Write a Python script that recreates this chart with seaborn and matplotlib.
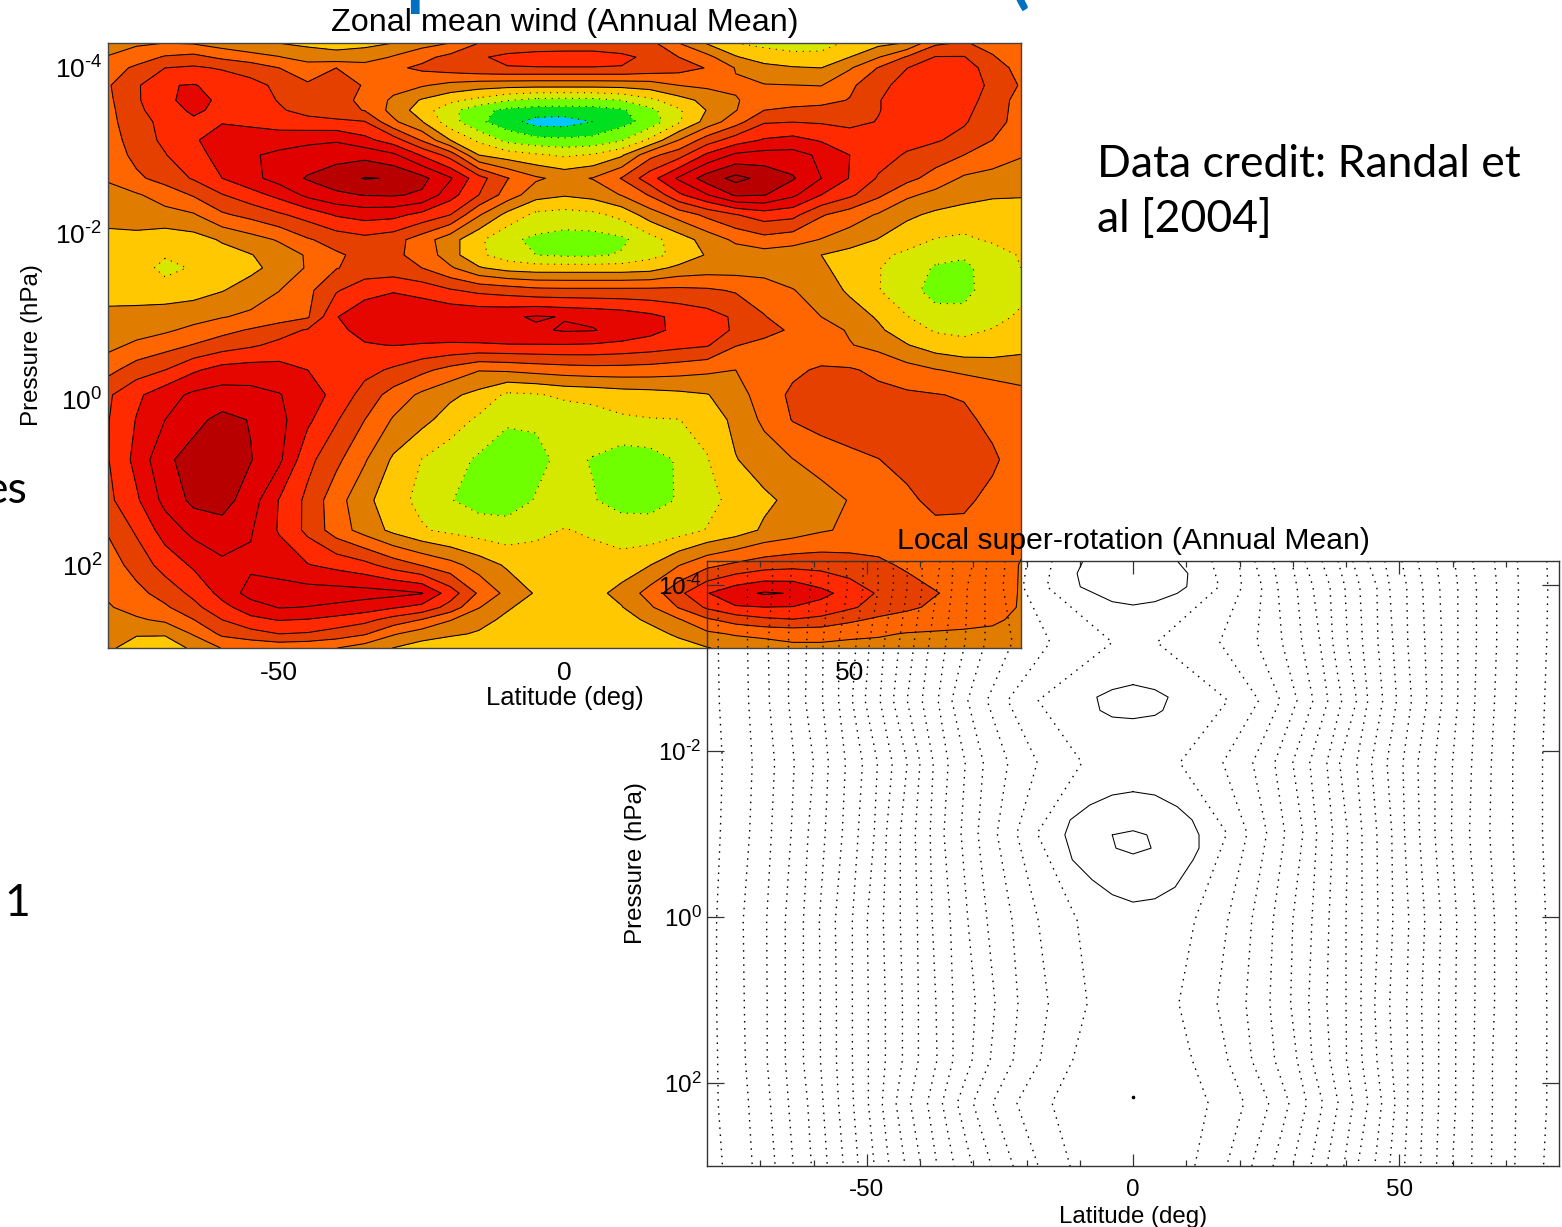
import numpy as np
import pandas as pd
import matplotlib
matplotlib.use("Agg")
import matplotlib.pyplot as plt
import seaborn as sns

# top panel: zonal wind, expressed in contour-band units
LATS = list(range(-80, 85, 5))
LOG_P = [-4.29, -4.12, -3.99, -3.78, -3.60, -3.48, -3.34, -3.12, -2.94, -2.66, -2.46, -2.22,
         -1.92, -1.735, -1.58, -1.31, -0.99, -0.83, -0.65, -0.35, -0.05, 0.25, 0.73, 1.22,
         1.58, 2.0, 2.34, 2.51, 2.66, 2.83, 3.0]
WIND = [
    [5.6,5.85,6.0,5.9,5.5,5.2,4.98,4.8,4.7,4.8,5.0,5.6,6.0,7.0,7.4,7.6,7.6,7.6,7.4,7.3,6.0,4.9,4.0,3.8,3.7,3.8,4.1,4.7,5.05,6.8,7.1,6.6,6.3],
    [6.05,6.5,7.1,7.3,6.8,6.4,6.05,5.5,5.3,5.4,6.1,6.7,7.3,7.9,8.2,8.25,8.3,8.3,8.2,7.8,7.0,6.3,5.1,4.4,4.2,4.15,5.0,5.95,7.1,8.05,8.05,7.1,6.3],
    [6.5,7.2,8.0,8.15,7.9,7.6,7.0,6.6,7.0,6.6,6.8,7.2,7.5,7.8,7.95,7.97,7.97,7.97,7.95,7.7,7.4,6.95,5.95,5.4,5.1,5.0,5.9,7.05,7.98,8.5,8.3,7.7,6.5],
    [6.9,7.85,8.95,9.05,8.7,8.3,7.8,7.1,7.3,6.95,6.4,6.1,5.7,5.45,5.35,5.3,5.3,5.3,5.35,5.5,6.0,6.2,6.1,6.05,6.02,5.97,6.8,7.7,8.4,8.8,8.5,7.8,6.9],
    [6.8,7.85,8.85,9.25,8.85,8.4,7.95,7.6,7.3,6.8,5.8,4.9,4.25,3.7,3.05,2.7,2.65,2.7,3.0,3.75,4.6,5.3,5.95,6.3,6.6,6.7,7.05,7.95,8.5,8.8,8.4,7.6,6.6],
    [6.75,7.7,8.75,9.1,8.85,8.5,8.1,7.7,7.4,6.95,5.65,4.5,3.3,2.3,1.75,1.6,1.55,1.6,1.85,2.7,3.85,5.05,5.95,7.0,7.2,7.3,7.5,7.95,8.5,8.7,8.25,7.5,6.6],
    [6.7,7.6,8.3,8.9,8.95,8.8,8.5,8.3,8.2,8.05,6.2,5.05,3.4,2.2,1.4,0.6,0.55,1.0,1.6,2.4,3.85,5.4,6.6,7.9,7.98,7.9,7.7,8.05,8.7,8.9,8.1,7.4,6.6],
    [6.5,7.5,8.2,8.9,9.4,9.5,9.6,9.8,9.9,9.3,8.5,6.9,5.0,3.8,2.7,2.3,2.2,2.3,2.9,4.2,6.0,7.5,8.5,9.1,9.3,8.9,8.6,8.4,8.3,8.1,7.7,7.0,6.3],
    [6.35,7.3,7.95,8.7,9.3,9.9,10.2,10.4,10.6,10.7,10.2,8.9,7.6,5.0,4.5,4.15,3.85,4.1,4.85,6.7,7.6,9.2,10.2,10.4,10.4,9.8,9.0,8.4,7.9,7.5,7.0,6.6,6.1],
    [6.2,6.8,7.4,8.1,9.0,9.7,10.4,11.1,11.6,12.05,11.95,11.3,10.1,8.4,7.05,6.15,5.7,6.05,7.05,8.6,10.15,11.5,12.3,11.7,11.1,10.0,8.95,7.9,7.3,6.6,5.85,5.6,5.3],
    [5.4,5.9,6.4,7.1,7.95,8.6,9.3,10.25,10.8,11.05,11.1,10.85,9.4,8.0,6.55,5.4,5.1,5.35,6.05,7.1,8.8,9.95,11.15,11.05,10.2,9.0,8.2,7.2,6.2,5.7,5.3,5.1,5.05],
    [5.3,5.5,5.7,5.9,6.85,7.3,7.85,8.4,9.1,9.4,9.3,8.7,8.0,6.1,4.7,3.75,3.6,3.75,4.3,5.5,6.4,7.25,7.95,8.5,8.3,7.1,6.5,5.9,5.2,4.8,4.65,4.6,4.7],
    [4.75,4.7,4.4,4.6,5.1,5.6,6.1,6.9,7.4,7.7,7.4,6.5,5.4,4.2,3.2,2.8,2.6,2.6,2.8,3.6,4.5,5.4,6.2,6.65,6.4,5.95,5.5,4.95,4.4,3.95,3.8,4.15,4.4],
    [4.6,4.6,4.1,4.4,4.65,4.95,5.5,6.1,6.85,7.3,7.15,6.75,5.4,4.2,3.5,3.0,2.85,2.85,3.1,3.7,4.25,5.1,5.45,5.55,5.4,5.0,4.6,4.2,3.8,3.3,3.1,3.5,4.1],
    [4.6,4.5,3.7,4.1,4.4,4.75,5.35,6.1,6.95,7.4,7.4,7.0,6.15,5.1,4.6,4.45,4.45,4.45,4.45,4.6,5.25,5.5,5.55,5.55,5.4,5.1,4.75,4.05,3.5,2.9,2.8,3.4,4.0],
    [4.7,4.6,4.45,4.6,4.95,5.45,5.98,6.75,7.9,8.6,8.9,8.6,8.1,7.75,7.55,7.3,7.25,7.25,7.25,7.25,7.25,7.15,6.9,6.55,6.05,5.5,4.85,4.05,3.3,2.7,2.7,3.5,3.75],
    [5.2,5.3,5.5,5.65,5.95,6.2,6.5,6.9,8.95,9.7,10.0,9.95,9.85,9.8,9.85,10.1,9.95,9.8,9.6,9.25,8.75,8.4,7.85,7.05,6.5,6.0,5.45,4.9,4.05,3.3,3.3,3.7,4.15],
    [5.45,5.6,5.85,6.25,6.7,7.1,7.6,8.1,8.85,9.2,9.35,9.4,9.45,9.55,9.65,9.85,10.1,10.05,9.7,9.3,8.75,8.35,7.9,7.35,6.85,6.4,5.9,5.15,4.5,3.9,3.8,4.05,4.5],
    [5.7,6.2,6.6,7.05,7.5,7.85,8.25,8.5,8.75,8.95,9.02,8.95,8.9,8.9,8.95,8.95,8.95,8.9,8.75,8.55,8.3,8.1,7.05,6.7,6.5,6.25,6.05,5.7,5.05,4.5,4.25,4.4,4.7],
    [6.7,7.5,8.0,8.85,9.4,9.5,9.4,9.0,8.6,8.3,7.85,7.25,6.65,6.05,6.15,6.35,6.5,6.6,6.6,6.55,6.4,6.2,6.0,6.2,6.8,7.15,7.1,6.8,6.4,6.05,5.8,5.6,5.5],
    [7.85,8.8,9.6,10.2,10.4,10.3,10.05,9.5,8.7,7.6,6.6,5.8,5.2,4.7,3.8,3.9,4.2,4.3,4.5,4.6,4.75,4.95,5.6,6.45,7.2,7.3,7.3,7.25,7.15,7.05,6.9,6.6,6.3],
    [7.95,9.05,10.0,10.7,11.3,10.95,10.3,9.2,8.1,7.0,5.9,5.3,4.55,3.8,3.15,3.1,3.3,3.55,3.85,3.95,3.98,4.3,5.3,6.2,7.05,7.4,7.55,7.65,7.7,7.65,7.25,6.7,6.2],
    [7.95,9.3,10.8,11.4,11.6,11.05,10.2,8.3,7.25,6.1,4.85,3.98,3.4,2.85,2.4,2.8,3.2,2.95,2.5,2.6,3.1,3.95,4.95,5.5,5.98,6.4,6.75,6.98,7.3,7.5,7.55,7.2,6.4],
    [7.75,8.85,10.3,11.25,11.4,10.5,8.95,7.75,6.4,5.3,4.35,3.75,3.05,2.6,2.6,3.05,3.3,3.05,2.7,2.75,3.05,3.7,4.3,4.8,5.25,5.6,6.05,6.4,6.8,7.25,7.2,6.7,6.15],
    [7.1,8.15,9.45,10.3,10.6,10.1,8.9,7.75,6.5,5.6,4.75,4.1,3.75,3.5,3.35,3.75,4.05,3.85,3.4,3.3,3.55,4.05,4.5,5.15,5.5,5.9,6.15,6.35,6.55,6.75,6.75,6.5,6.1],
    [6.5,7.4,8.4,9.15,9.8,9.8,9.6,9.05,8.7,8.3,7.55,6.95,6.35,5.55,4.85,4.55,4.4,4.4,4.5,4.98,5.95,6.75,7.2,7.55,7.7,7.65,7.45,7.2,6.85,6.55,6.35,6.2,5.98],
    [6.15,6.7,7.4,8.25,9.3,10.4,10.4,10.45,10.45,10.4,10.3,10.05,8.5,6.85,5.7,4.9,4.55,4.7,5.3,6.4,7.75,8.95,9.7,10.1,9.95,9.3,8.6,7.9,7.45,7.05,6.7,6.35,5.95],
    [5.9,6.4,6.85,7.7,8.7,9.5,10.05,9.97,9.8,9.5,9.1,8.7,7.6,6.05,5.1,4.6,4.35,4.5,4.95,5.85,7.05,8.15,8.9,8.98,8.95,8.6,8.15,7.6,7.2,6.8,6.5,6.25,5.95],
    [5.55,5.85,6.2,6.98,8.0,8.75,9.05,8.95,8.65,8.3,7.6,6.95,6.05,5.3,4.8,4.4,4.3,4.35,4.6,5.2,5.9,6.85,7.4,7.8,7.95,7.75,7.2,6.8,6.55,6.4,6.3,6.15,5.8],
    [5.2,5.05,5.05,6.1,7.2,7.6,8.0,7.9,7.55,7.1,6.1,5.5,5.15,4.9,4.55,4.25,4.25,4.25,4.25,4.6,5.2,5.8,6.1,6.2,6.3,6.3,6.2,6.1,5.95,5.9,5.85,5.8,5.7],
    [5.1,4.75,4.7,5.1,6.05,6.2,6.3,6.2,6.02,5.5,4.98,4.5,4.3,4.2,4.2,4.2,4.2,4.2,4.2,4.3,4.5,4.95,5.3,5.6,5.8,5.8,5.7,5.7,5.7,5.7,5.7,5.7,5.6],
]
BAND_COLORS = ["#00c8ff", "#00e020", "#70ff00", "#d6e800", "#ffc800", "#e07c00", "#ff6600",
               "#e64000", "#ff2a00", "#e60600", "#e00000", "#b80000", "#b00000"]

# bottom panel: dotted contours, latitude of each line at these log-pressures
LINE_LOG_P = [-4.29, -3.98, -3.31, -2.61, -1.86, -1.01, 0.04, 1.04, 1.72, 2.24, 3.0]
LEFT_LINES = [
    [-77.9,-72.4,-67.7,-64.0,-60.2,-57.2,-54.0,-50.7,-48.0,-45.0,-42.4,-39.6,-36.2,-33.8,-30.0,-27.4,-24.0,-19.9,-15.2],
    [-77.9,-72.4,-67.7,-64.4,-60.6,-57.2,-53.6,-50.7,-47.8,-45.0,-42.4,-39.6,-36.8,-34.0,-31.1,-27.8,-24.4,-20.6,-16.1],
    [-77.9,-72.4,-68.5,-64.7,-61.3,-58.2,-55.2,-52.0,-49.5,-46.7,-43.9,-41.1,-38.3,-35.1,-31.5,-27.8,-22.7,-15.6,-3.9],
    [-77.7,-72.2,-68.3,-64.7,-61.5,-58.3,-55.3,-52.7,-50.3,-47.5,-45.0,-42.4,-39.6,-36.6,-34.0,-31.0,-27.4,-23.5,-17.8],
    [-77.1,-71.5,-67.3,-63.6,-60.0,-57.2,-54.0,-50.8,-48.0,-45.2,-42.4,-40.0,-37.5,-34.7,-31.5,-28.1,-23.5,-18.0,-9.6],
    [-77.5,-72.0,-67.9,-64.2,-61.0,-57.8,-54.6,-51.6,-48.6,-46.3,-43.7,-40.9,-38.1,-35.5,-32.3,-29.1,-25.5,-21.8,-18.0],
    [-78.2,-73.2,-68.8,-65.3,-61.9,-58.9,-55.9,-52.7,-49.9,-46.9,-43.7,-40.5,-37.7,-34.3,-31.0,-27.4,-22.7,-17.8,-10.5],
    [-78.2,-73.0,-68.7,-65.3,-61.9,-58.7,-55.7,-52.7,-49.7,-46.5,-43.3,-40.3,-37.0,-33.8,-29.6,-25.9,-21.6,-15.9,-8.6],
    [-78.0,-72.8,-68.7,-65.3,-61.9,-58.7,-55.7,-52.7,-49.7,-46.5,-43.3,-40.3,-36.8,-33.8,-30.2,-26.8,-22.5,-17.4,-11.3],
    [-77.9,-72.2,-68.1,-64.7,-61.1,-58.2,-55.3,-52.5,-49.7,-47.1,-44.5,-41.8,-38.6,-35.8,-33.0,-30.0,-26.3,-21.8,-15.2],
    [-77.1,-71.5,-67.2,-63.8,-60.4,-57.4,-54.4,-51.6,-48.6,-45.8,-42.8,-39.8,-36.8,-33.6,-30.2,-26.6,-22.5,-17.8,-11.8],
]
RIGHT_LINES = [
    [14.8,19.9,22.9,26.3,29.8,32.3,35.5,38.5,41.3,44.1,47.3,50.5,53.5,57.0,60.4,63.8,67.9,72.2,77.7],
    [16.1,20.4,24.2,27.2,30.8,33.8,37.0,39.8,42.6,45.8,48.2,51.4,54.4,57.6,61.0,64.5,68.3,72.4,77.9],
    [4.5,16.3,23.3,28.0,31.7,35.1,37.5,40.3,43.1,46.0,48.8,51.6,54.8,58.0,61.0,64.5,68.3,72.2,77.7],
    [17.8,23.6,27.6,30.8,33.8,36.6,39.2,42.0,44.1,46.9,49.5,52.3,55.2,58.0,61.0,64.2,67.9,71.9,77.3],
    [8.8,16.9,22.5,26.6,30.0,33.2,36.4,38.8,42.0,44.8,47.7,50.7,53.5,56.7,60.0,63.6,67.3,71.3,76.9],
    [17.6,21.4,25.1,28.5,31.9,34.5,37.5,40.3,43.0,45.8,48.6,51.0,53.8,56.7,59.8,63.2,67.0,71.3,76.9],
    [11.6,17.8,22.3,26.3,30.0,33.6,36.8,40.0,43.0,46.0,48.8,51.8,54.8,57.8,60.8,64.3,67.9,72.0,77.5],
    [8.6,15.8,21.2,25.7,29.6,33.0,36.4,40.0,42.8,45.4,48.2,51.4,54.2,57.4,60.6,64.2,67.9,72.0,77.7],
    [11.1,17.8,22.3,26.6,30.8,33.6,37.0,40.1,43.0,45.8,48.6,51.6,54.4,57.4,60.6,64.0,67.5,72.0,77.7],
    [14.1,20.8,25.5,29.3,32.6,35.6,38.5,41.3,44.1,46.7,49.2,51.6,54.4,57.4,60.6,63.8,67.5,71.9,77.7],
    [11.6,17.6,22.3,26.3,30.0,33.4,36.4,39.6,42.2,45.4,48.2,51.0,54.0,57.0,60.0,63.6,67.3,71.7,77.1],
]
# solid contours of the bottom panel
LOOP_TOP_LAT = [-9.4, -10.5, -9.9, -3.9, 0, 4.1, 8.3, 10.1, 10.3, 8.3]
LOOP_TOP_P = [-4.29, -4.14, -3.98, -3.80, -3.76, -3.80, -3.90, -3.98, -4.14, -4.29]
LOOP_UPPER_LAT = [0, 4.1, 6.6, 5.6, 4.1, 0, -3.9, -6.2, -6.8, -3.9, 0]
LOOP_UPPER_P = [-2.80, -2.74, -2.65, -2.49, -2.43, -2.39, -2.41, -2.49, -2.65, -2.74, -2.80]
LOOP_MID_LAT = [0, 4.1, 8.3, 11.1, 12.4, 12.4, 11.3, 7.9, 4.1, 0, -3.9, -7.7, -11.4, -12.8, -11.8, -8.1, -3.9, 0]
LOOP_MID_P = [-1.51, -1.47, -1.33, -1.17, -0.99, -0.83, -0.69, -0.36, -0.22, -0.18, -0.27, -0.45, -0.69, -0.99, -1.17, -1.35, -1.47, -1.51]
LOOP_INNER_LAT = [-3.9, 0, 2.6, 3.4, 0, -3.2, -3.9]
LOOP_INNER_P = [-0.99, -1.04, -0.99, -0.83, -0.76, -0.83, -0.99]

X_TICKS = [-50, 0, 50]
X_MINOR = [-70, -60, -40, -30, -20, -10, 10, 20, 30, 40, 60, 70]
Y_TICKS = [-4, -2, 0, 2]
Y_LABELS = [r"$\mathdefault{10^{\text{-}4}}$", r"$\mathdefault{10^{\text{-}2}}$",
            r"$\mathdefault{10^{0}}$", r"$\mathdefault{10^{2}}$"]

sns.set_theme(style="ticks")
plt.rcParams["font.family"] = ["Liberation Sans", "DejaVu Sans"]
plt.rcParams["mathtext.fontset"] = "custom"
plt.rcParams["mathtext.rm"] = "Liberation Sans"
plt.rcParams["mathtext.default"] = "regular"
plt.rcParams["axes.unicode_minus"] = False

W, H = 1562, 1227
fig = plt.figure(figsize=(W / 100, H / 100), dpi=100, facecolor="white")


def style_axes(ax, tick_size, label_size, title, title_size, pad, color, xlen):
    ax.set_xlim(-80, 80)
    ax.set_ylim(3.0, -4.29)
    ax.set_xticks(X_TICKS)
    ax.set_xticks(X_MINOR, minor=True)
    ax.set_yticks(Y_TICKS)
    ax.set_yticklabels(Y_LABELS)
    ax.tick_params(axis="x", which="major", direction="in", top=True, bottom=True, length=xlen,
                   width=0.9, color=color, labelsize=tick_size, pad=9, labelcolor="black")
    ax.tick_params(axis="x", which="minor", direction="in", top=True, bottom=True, length=xlen / 2,
                   width=0.9, color=color)
    ax.tick_params(axis="y", which="major", direction="in", left=True, right=True, length=12,
                   width=0.9, color=color, labelsize=tick_size, pad=4, labelcolor="black")
    ax.set_xlabel("Latitude (deg)", fontsize=label_size, color="black")
    ax.set_ylabel("Pressure (hPa)", fontsize=17.4, color="black")
    ax.set_title(title, fontsize=title_size, pad=pad, color="black")
    for spine in ax.spines.values():
        spine.set_color(color)
        spine.set_linewidth(1.0)


# --- top panel
ax1 = fig.add_axes([108 / W, 1 - 648 / H, 913 / W, 605 / H])
wind = np.array(WIND)
levels = np.arange(0, 14)
ax1.contourf(LATS, LOG_P, wind, levels=levels, colors=BAND_COLORS)
line_levels = levels[1:-1]
styles = [(0, (1, 5.5)) if lv <= 4 else "solid" for lv in line_levels]
ax1.contour(LATS, LOG_P, wind, levels=line_levels, colors="black", linewidths=0.75, linestyles=styles)
style_axes(ax1, 19, 18.4, "Zonal mean wind (Annual Mean)", 23.3, 8.5, "#444444", 10)
ax1.xaxis.set_label_coords(0.5, -0.063)
ax1.yaxis.set_label_coords(-0.0715, 0.5)

# --- bottom panel, laid over the first with no background
ax2 = fig.add_axes([707 / W, 1 - 1166 / H, 852 / W, 605 / H])
ax2.patch.set_alpha(0)

frames = []
for side, table in (("L", LEFT_LINES), ("R", RIGHT_LINES)):
    table = np.array(table)
    for i in range(table.shape[1]):
        frames.append(pd.DataFrame({"lat": table[:, i], "logp": LINE_LOG_P, "line": f"{side}{i}"}))
dotted = pd.concat(frames, ignore_index=True)
sns.lineplot(data=dotted, x="lat", y="logp", units="line", estimator=None, sort=False,
             color="black", linewidth=1.0, linestyle=(0, (1.1, 4.0)), legend=False, ax=ax2)

for lat, logp in ((LOOP_TOP_LAT, LOOP_TOP_P), (LOOP_UPPER_LAT, LOOP_UPPER_P),
                  (LOOP_MID_LAT, LOOP_MID_P), (LOOP_INNER_LAT, LOOP_INNER_P)):
    ax2.plot(lat, logp, color="black", lw=0.75)
ax2.plot([0], [2.17], marker="o", ms=1.6, color="black")

style_axes(ax2, 17.4, 17.3, "Local super-rotation (Annual Mean)", 21.7, 8.5, "#333333", 9)
ax2.xaxis.set_label_coords(0.5, -0.066)
ax2.yaxis.set_label_coords(-0.0705, 0.5)

# --- slide text around the charts
fig.text(1097 / W, 1 - 177 / H, "Data credit: Randal et", family="Lato", fontsize=32, color="black")
fig.text(1097 / W, 1 - 232 / H, "al [2004]", family="Lato", fontsize=32, color="black")
fig.text(27 / W, 1 - 503 / H, "es", family="Lato", fontsize=32, color="black", ha="right")
fig.text(4 / W, 1 - 916 / H, "1", family="Lato", fontsize=32, color="black")
fig.text(403 / W, 1 + 3 / H, "p", family="Lato", fontsize=70, color="#0070c0")
fig.text(1005 / W, 1 + 3 / H, "(", family="Lato", fontsize=70, color="#0070c0")

fig.savefig("out.png", dpi=100)
